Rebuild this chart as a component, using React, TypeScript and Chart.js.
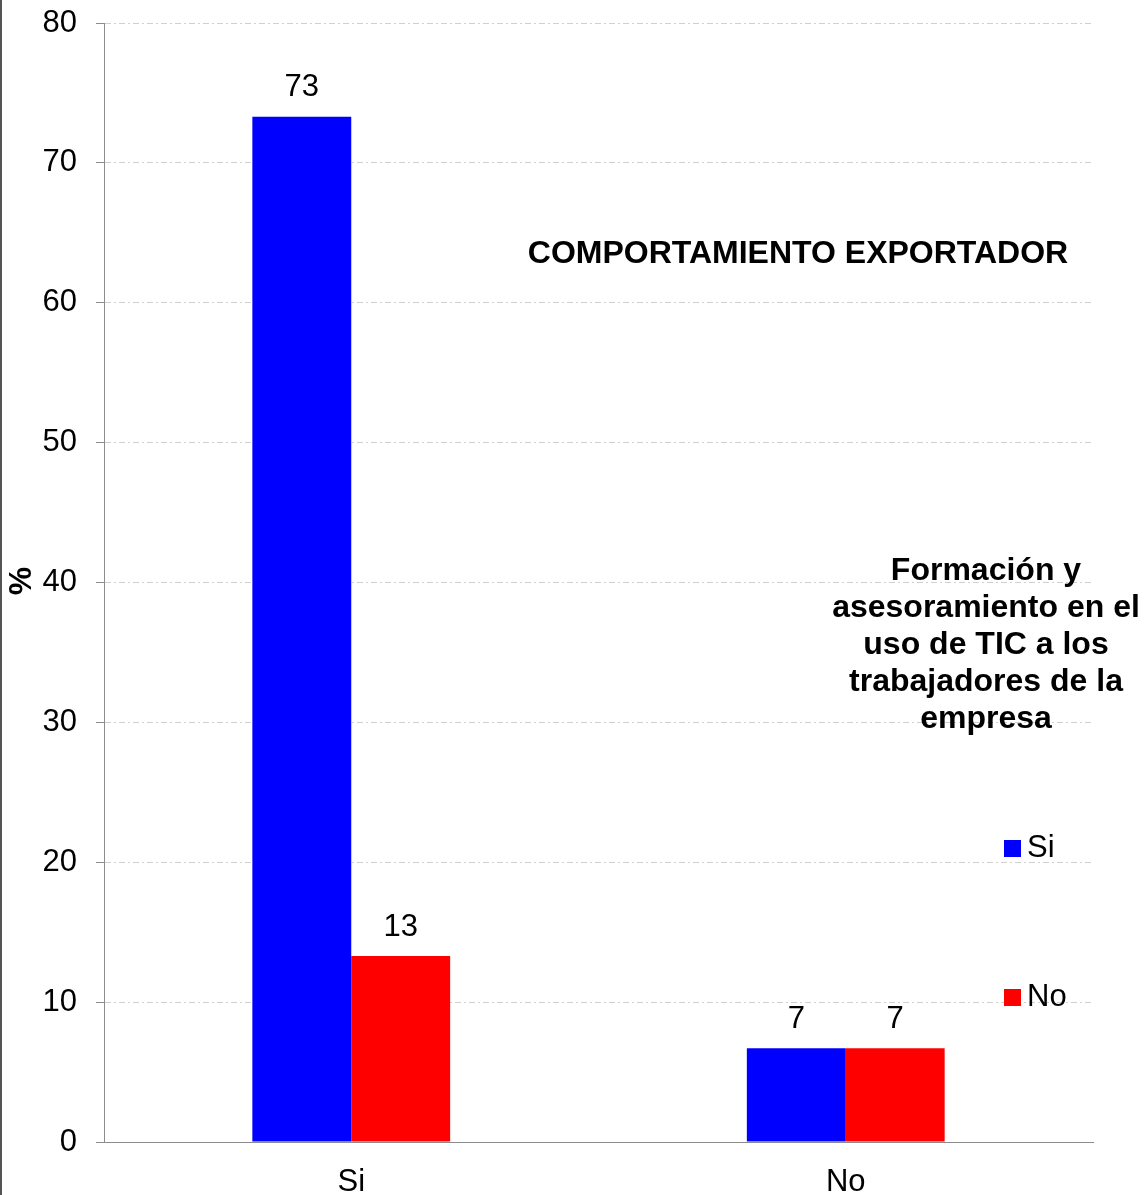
import React, { useEffect, useRef } from "react";
import { Chart, registerables } from "chart.js";

Chart.register(...registerables);

const categories = ["Si", "No"];
const seriesNames = ["Si", "No"];
const seriesSi = [73.3, 6.7];
const seriesNo = [13.3, 6.7];
const seriesColors = ["#0000FF", "#FF0000"];
const chartTitle = "COMPORTAMIENTO EXPORTADOR";
const legendTitleLines = [
  "Formación y",
  "asesoramiento en el",
  "uso de TIC a los",
  "trabajadores de la",
  "empresa",
];
const yAxisTitle = "%";
const yMin = 0;
const yMax = 80;
const yStep = 10;

const FONT = "'Liberation Sans', Arial, sans-serif";

const decorPlugin = {
  id: "decor",
  afterDatasetsDraw(chart: any) {
    const ctx = chart.ctx;
    ctx.save();
    ctx.fillStyle = "#000";
    ctx.font = `31px ${FONT}`;
    ctx.textAlign = "center";
    ctx.textBaseline = "middle";
    chart.data.datasets.forEach((ds: any, di: number) => {
      const meta = chart.getDatasetMeta(di);
      meta.data.forEach((el: any, i: number) => {
        ctx.fillText(String(Math.round(ds.data[i])), el.x, el.y - 29);
      });
    });
    ctx.restore();
  },
  afterDraw(chart: any) {
    const ctx = chart.ctx;
    ctx.save();
    // left frame line
    ctx.fillStyle = "#555";
    ctx.fillRect(0, 0, 2, chart.height);
    // title
    ctx.fillStyle = "#000";
    ctx.font = `bold 32px ${FONT}`;
    ctx.textAlign = "center";
    ctx.textBaseline = "middle";
    ctx.fillText(chartTitle, 798, 254);
    // legend title
    legendTitleLines.forEach((line, i) => {
      ctx.fillText(line, 986, 571 + 37 * i);
    });
    // legend items
    const itemY = [848, 997];
    seriesNames.forEach((name, i) => {
      ctx.fillStyle = seriesColors[i];
      ctx.fillRect(1004, itemY[i] - 8, 17, 17);
      ctx.fillStyle = "#000";
      ctx.font = `31px ${FONT}`;
      ctx.textAlign = "left";
      ctx.fillText(name, 1027, itemY[i]);
    });
    // y axis title
    ctx.font = `bold 32px ${FONT}`;
    ctx.textAlign = "center";
    ctx.translate(22, 581);
    ctx.rotate(-Math.PI / 2);
    ctx.fillText(yAxisTitle, 0, 0);
    ctx.restore();
  },
};

export default function App() {
  const ref = useRef<HTMLCanvasElement>(null);
  useEffect(() => {
    document.body.style.margin = "0";
    const canvas = ref.current!;
    const chart = new Chart(canvas, {
      type: "bar",
      data: {
        labels: categories,
        datasets: [
          {
            label: seriesNames[0],
            data: seriesSi,
            backgroundColor: seriesColors[0],
            borderWidth: 0,
          },
          {
            label: seriesNames[1],
            data: seriesNo,
            backgroundColor: seriesColors[1],
            borderWidth: 0,
          },
        ],
      },
      options: {
        responsive: false,
        animation: false,
        devicePixelRatio: 1,
        layout: { padding: { top: 23, right: 54, left: 0, bottom: 0 } },
        datasets: {
          bar: { categoryPercentage: 0.4, barPercentage: 1 },
        },
        plugins: {
          legend: { display: false },
          tooltip: { enabled: false },
          title: { display: false },
        },
        scales: {
          x: {
            grid: { display: false, drawTicks: false },
            border: { color: "#8c8c8c", width: 1 },
            ticks: {
              color: "#000",
              font: { family: FONT, size: 31 },
              padding: 22,
            },
            afterFit: (s: any) => {
              s.height = 53;
              s.paddingLeft = 0;
              s.paddingRight = 0;
            },
          },
          y: {
            min: yMin,
            max: yMax,
            ticks: {
              stepSize: yStep,
              color: "#000",
              font: { family: FONT, size: 31 },
              padding: 19,
            },
            grid: {
              color: "#d0d0d0",
              lineWidth: 1,
              tickColor: "#8c8c8c",
              tickLength: 8,
              tickBorderDash: [],
            },
            border: { color: "#8c8c8c", width: 1, dash: [6, 3, 2, 3] },
            afterFit: (s: any) => {
              s.width = 104;
              s.paddingTop = 0;
              s.paddingBottom = 0;
            },
          },
        },
      },
      plugins: [decorPlugin],
    });
    return () => chart.destroy();
  }, []);
  return (
    <div style={{ width: 1147, height: 1195, position: "relative" }}>
      <canvas ref={ref} width={1147} height={1195} style={{ display: "block" }} />
    </div>
  );
}
